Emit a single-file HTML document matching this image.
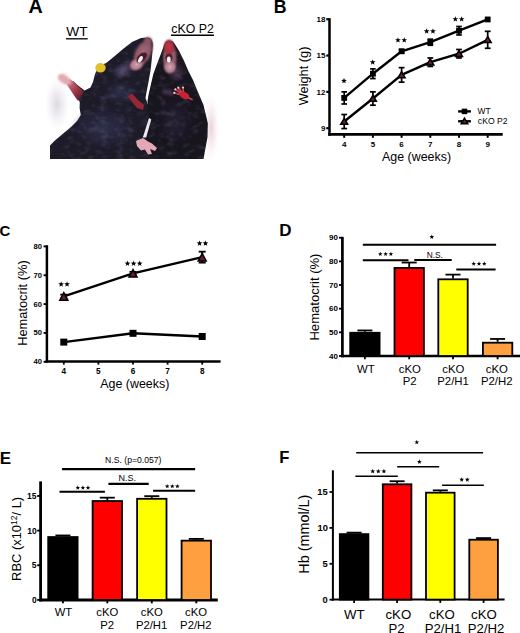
<!DOCTYPE html>
<html><head><meta charset="utf-8"><style>
html,body{margin:0;padding:0;background:#fff;}
svg{display:block;font-family:"Liberation Sans",sans-serif;}
</style></head><body>
<svg width="520" height="633" viewBox="0 0 520 633">
<rect width="520" height="633" fill="#fff"/>
<text x="28.61" y="12.6" font-size="19.7" font-weight="bold" >A</text>
<defs>
<filter id="bl" x="-10%" y="-10%" width="120%" height="120%"><feGaussianBlur stdDeviation="0.6"/></filter>
<filter id="bl2" x="-50%" y="-50%" width="200%" height="200%"><feGaussianBlur stdDeviation="1.3"/></filter>
<radialGradient id="hl1"><stop offset="0" stop-color="#5e4e78" stop-opacity="0.95"/><stop offset="1" stop-color="#5e4e78" stop-opacity="0"/></radialGradient>
<radialGradient id="hl2"><stop offset="0" stop-color="#30324e" stop-opacity="0.9"/><stop offset="1" stop-color="#30324e" stop-opacity="0"/></radialGradient>
<radialGradient id="hl3"><stop offset="0" stop-color="#262236" stop-opacity="0.9"/><stop offset="1" stop-color="#262236" stop-opacity="0"/></radialGradient>
<radialGradient id="hl4"><stop offset="0" stop-color="#4a3450" stop-opacity="0.9"/><stop offset="1" stop-color="#4a3450" stop-opacity="0"/></radialGradient>
<radialGradient id="hl5"><stop offset="0" stop-color="#dcd8e0" stop-opacity="1"/><stop offset="1" stop-color="#e8e4ec" stop-opacity="0"/></radialGradient>
<radialGradient id="hl6"><stop offset="0" stop-color="#ecd2d8" stop-opacity="1"/><stop offset="1" stop-color="#f4e4e8" stop-opacity="0"/></radialGradient>
<radialGradient id="mo1"><stop offset="0" stop-color="#d4a8b4"/><stop offset="0.6" stop-color="#b07a8a"/><stop offset="1" stop-color="#7a4a5a" stop-opacity="0"/></radialGradient>
<linearGradient id="arm" x1="1" y1="1" x2="0" y2="0"><stop offset="0" stop-color="#3a1a26"/><stop offset="0.45" stop-color="#a03444"/><stop offset="1" stop-color="#d8909c"/></linearGradient>
<radialGradient id="mo3"><stop offset="0" stop-color="#c03848"/><stop offset="0.6" stop-color="#a83040"/><stop offset="1" stop-color="#802838" stop-opacity="0"/></radialGradient>
<radialGradient id="mo4"><stop offset="0" stop-color="#a86c7c"/><stop offset="0.65" stop-color="#8a5666"/><stop offset="1" stop-color="#5a3040" stop-opacity="0"/></radialGradient>
<radialGradient id="mo2"><stop offset="0" stop-color="#b86070"/><stop offset="0.6" stop-color="#984858"/><stop offset="1" stop-color="#703040" stop-opacity="0"/></radialGradient>
<filter id="fur" x="0" y="0" width="100%" height="100%"><feTurbulence type="fractalNoise" baseFrequency="0.12 0.18" numOctaves="2" seed="5" result="n"/><feColorMatrix in="n" type="matrix" values="0 0 0 0 0.3  0 0 0 0 0.28  0 0 0 0 0.45  0 0 0 2.2 -1.0"/></filter>
<clipPath id="mclip"><path d="M148.5,37.5 C151.5,38.5 153,41 152.8,45 L152,57 L150.6,70 L148.5,82 L146.5,92 L145.5,98 L150,110 L155,159 L50,159 L50,145.4 L54.6,140.8 L63.8,133 L71,127 L77,121 L80.8,115 L79.6,108 L79.8,102 L77,97.5 L84.6,90.5 L90.5,87.5 L93,82 L95,74 L99,66 L106.2,63 L114.2,56.5 L123.6,48.5 L132,42 L141,38 Z"/><path d="M168.9,40.5 C171.5,40.5 173.2,41.5 174.5,43.5 L179,50.8 L184.3,61.6 L188.4,71 L193,80 L197.7,91.5 L203.5,105 L207.8,123.2 L207.5,137 L205.5,148 L203.5,159 L146,159 L146.5,140 L148.6,119.4 L147.5,101 L148.5,95 L151,84 L153.4,73.7 L157.4,62.9 L161.5,52.2 L164.5,44 C165.8,41.8 167.2,40.6 168.9,40.5 Z"/></clipPath>
</defs>
<g filter="url(#bl)">
<ellipse cx="57" cy="104" rx="12" ry="26" fill="url(#hl5)"/>
<ellipse cx="211" cy="128" rx="8" ry="34" fill="url(#hl6)"/>
<path d="M148.5,37.5 C151.5,38.5 153,41 152.8,45 L152,57 L150.6,70 L148.5,82 L146.5,92 L145.5,98 L150,110 L155,159 L50,159 L50,145.4 L54.6,140.8 L63.8,133 L71,127 L77,121 L80.8,115 L79.6,108 L79.8,102 L77,97.5 L72,91 L70,85 L73,81 L78,85.5 L84.6,90.5 L90.5,87.5 L93,82 L95,74 L99,66 L106.2,63 L114.2,56.5 L123.6,48.5 L132,42 L141,38 Z" fill="#1c1a28"/>
<path d="M168.9,40.5 C171.5,40.5 173.2,41.5 174.5,43.5 L179,50.8 L184.3,61.6 L188.4,71 L193,80 L197.7,91.5 L203.5,105 L207.8,123.2 L207.5,137 L205.5,148 L203.5,159 L146,159 L146.5,140 L148.6,119.4 L147.5,101 L148.5,95 L151,84 L153.4,73.7 L157.4,62.9 L161.5,52.2 L164.5,44 C165.8,41.8 167.2,40.6 168.9,40.5 Z" fill="#16131c"/>
<path d="M149,118 L151.3,119.5 L146.2,137.5 L142.8,137.5 Z" fill="#f0ecf2"/>
<ellipse cx="123" cy="70" rx="12" ry="8" fill="url(#hl1)" transform="rotate(-35 123 70)"/>
<ellipse cx="104" cy="128" rx="34" ry="22" fill="url(#hl2)"/>
<ellipse cx="120" cy="92" rx="18" ry="12" fill="url(#hl2)"/>
<ellipse cx="175" cy="122" rx="20" ry="28" fill="url(#hl3)"/>
<ellipse cx="176" cy="72" rx="10" ry="12" fill="url(#hl4)"/>
<ellipse cx="168" cy="92" rx="9" ry="5" fill="url(#hl4)"/>
<g clip-path="url(#mclip)"><rect x="50" y="36" width="162" height="124" filter="url(#fur)" opacity="0.22"/></g>
<ellipse cx="143" cy="53" rx="9.5" ry="17" fill="url(#mo4)" transform="rotate(28 143 53)"/>
<ellipse cx="136.5" cy="64.5" rx="9" ry="7" fill="url(#mo1)" transform="rotate(-30 136.5 64.5)"/>
<ellipse cx="148" cy="40.5" rx="4" ry="3.2" fill="#8a5464" filter="url(#bl2)"/>
<ellipse cx="141.8" cy="57.6" rx="6.5" ry="3.8" fill="#4a1e2c" transform="rotate(-45 141.8 57.6)" filter="url(#bl)"/>
<ellipse cx="140.4" cy="59.4" rx="1.9" ry="3.6" fill="#f4eef0" transform="rotate(30 140.4 59.4)"/>
<ellipse cx="169.8" cy="58" rx="8.5" ry="17" fill="url(#mo4)"/>
<ellipse cx="170" cy="67" rx="7.5" ry="8" fill="url(#mo1)"/>
<ellipse cx="169" cy="47" rx="6.5" ry="9" fill="url(#mo3)"/>
<ellipse cx="169" cy="57.5" rx="3.6" ry="4" fill="#52222e" filter="url(#bl)"/>
<ellipse cx="168.8" cy="59.4" rx="1.9" ry="3" fill="#f6f0f2"/>
<ellipse cx="100.5" cy="67.8" rx="5.2" ry="4.8" fill="#e2c02a"/>
<path d="M84,92 C80,88 76,84 70,79 L66,83 C69,88 73,94 78,101 Z" fill="url(#arm)"/>
<path d="M71,84 C68,86 62,84 59,80 C57,77 58,74 61,74 C63,73 66,75 68,77 C70,79 72,81 71,84 Z" fill="#e2aab2" filter="url(#bl2)"/>
<path d="M128,96 L132,93.5 L138,100 L144,105 L143,110 L137,108 L132,102 Z" fill="#962838"/>
<g stroke-linecap="round" stroke-width="1.7" stroke="#d04050"><line x1="182" y1="94" x2="175.5" y2="89.5"/><line x1="182.5" y1="93.5" x2="178.5" y2="88"/><line x1="183.5" y1="93" x2="183" y2="87.8"/><line x1="181.5" y1="95" x2="174.5" y2="93"/><line x1="187" y1="97" x2="192" y2="99.5"/></g>
<ellipse cx="184.5" cy="95.5" rx="5" ry="3.4" fill="#c82434" transform="rotate(25 184.5 95.5)"/>
<g fill="#ecc4cc"><circle cx="175.3" cy="89.3" r="1.1"/><circle cx="178.3" cy="87.7" r="1.1"/><circle cx="183" cy="87.5" r="1.1"/><circle cx="174.3" cy="92.9" r="1.1"/></g>
<path d="M136,141 L143,138 L148,141.5 L152,143.5 L157,148 L155,151 L150,149 L152,154 L148,154.5 L145,149.5 L141,150.5 L137,146 Z" fill="#e2a8b6"/>
</g>
<text x="66.36" y="36.1" font-size="13.68" >WT</text>
<line x1="66" y1="38.8" x2="87.7" y2="38.8" stroke="#000" stroke-width="1.3" stroke-linecap="butt"/>
<text x="171.31" y="33.3" font-size="12.32" >cKO P2</text>
<line x1="170.9" y1="35.2" x2="214" y2="35.2" stroke="#000" stroke-width="1.5" stroke-linecap="butt"/>
<text x="273.76" y="12.7" font-size="17.7" font-weight="bold" >B</text>
<line x1="329.5" y1="18.2" x2="329.5" y2="135.7" stroke="#000" stroke-width="2.5" stroke-linecap="butt"/>
<line x1="328.2" y1="134.4" x2="502.7" y2="134.4" stroke="#000" stroke-width="2.7" stroke-linecap="butt"/>
<line x1="326.3" y1="128.2" x2="329.5" y2="128.2" stroke="#000" stroke-width="2.2" stroke-linecap="butt"/>
<text x="320.94" y="130.96" font-size="8" font-weight="bold" >9</text>
<line x1="326.3" y1="91.87" x2="329.5" y2="91.87" stroke="#000" stroke-width="2.2" stroke-linecap="butt"/>
<text x="316.54" y="94.67" font-size="8" font-weight="bold" >12</text>
<line x1="326.3" y1="55.54" x2="329.5" y2="55.54" stroke="#000" stroke-width="2.2" stroke-linecap="butt"/>
<text x="316.46" y="58.26" font-size="8" font-weight="bold" >15</text>
<line x1="326.3" y1="19.21" x2="329.5" y2="19.21" stroke="#000" stroke-width="2.2" stroke-linecap="butt"/>
<text x="316.46" y="21.97" font-size="8" font-weight="bold" >18</text>
<line x1="344.2" y1="134.4" x2="344.2" y2="137.8" stroke="#000" stroke-width="2" stroke-linecap="butt"/>
<text x="341.96" y="146.6" font-size="8" font-weight="bold" >4</text>
<line x1="372.9" y1="134.4" x2="372.9" y2="137.8" stroke="#000" stroke-width="2" stroke-linecap="butt"/>
<text x="370.66" y="146.6" font-size="8" font-weight="bold" >5</text>
<line x1="401.6" y1="134.4" x2="401.6" y2="137.8" stroke="#000" stroke-width="2" stroke-linecap="butt"/>
<text x="399.36" y="146.6" font-size="8" font-weight="bold" >6</text>
<line x1="430.3" y1="134.4" x2="430.3" y2="137.8" stroke="#000" stroke-width="2" stroke-linecap="butt"/>
<text x="428.1" y="146.6" font-size="8" font-weight="bold" >7</text>
<line x1="459" y1="134.4" x2="459" y2="137.8" stroke="#000" stroke-width="2" stroke-linecap="butt"/>
<text x="456.76" y="146.6" font-size="8" font-weight="bold" >8</text>
<line x1="487.7" y1="134.4" x2="487.7" y2="137.8" stroke="#000" stroke-width="2" stroke-linecap="butt"/>
<text x="485.5" y="146.6" font-size="8" font-weight="bold" >9</text>
<text x="382.1" y="160.9" font-size="12.42" >Age (weeks)</text>
<text transform="translate(308.41,105.23) rotate(-90)" font-size="12.77">Weight (g)</text>
<polyline fill="none" stroke="#000" stroke-width="2.4" stroke-linejoin="round" points="344.2,97.92 372.9,73.7 401.6,51.3 430.3,42.22 459,30.71 487.7,19.45"/>
<polyline fill="none" stroke="#000" stroke-width="2.4" stroke-linejoin="round" points="344.2,121.54 372.9,98.53 401.6,74.92 430.3,62.2 459,53.72 487.7,39.8"/>
<line x1="344.2" y1="91.87" x2="344.2" y2="103.98" stroke="#000" stroke-width="1.7" stroke-linecap="butt"/>
<line x1="341.4" y1="91.87" x2="347" y2="91.87" stroke="#000" stroke-width="1.7" stroke-linecap="butt"/>
<line x1="341.4" y1="103.98" x2="347" y2="103.98" stroke="#000" stroke-width="1.7" stroke-linecap="butt"/>
<rect x="341.3" y="95.02" width="5.8" height="5.8" fill="#000"/>
<line x1="372.9" y1="68.86" x2="372.9" y2="78.55" stroke="#000" stroke-width="1.7" stroke-linecap="butt"/>
<line x1="370.1" y1="68.86" x2="375.7" y2="68.86" stroke="#000" stroke-width="1.7" stroke-linecap="butt"/>
<line x1="370.1" y1="78.55" x2="375.7" y2="78.55" stroke="#000" stroke-width="1.7" stroke-linecap="butt"/>
<rect x="370" y="70.8" width="5.8" height="5.8" fill="#000"/>
<line x1="401.6" y1="49.48" x2="401.6" y2="53.12" stroke="#000" stroke-width="1.7" stroke-linecap="butt"/>
<line x1="398.8" y1="49.48" x2="404.4" y2="49.48" stroke="#000" stroke-width="1.7" stroke-linecap="butt"/>
<line x1="398.8" y1="53.12" x2="404.4" y2="53.12" stroke="#000" stroke-width="1.7" stroke-linecap="butt"/>
<rect x="398.7" y="48.4" width="5.8" height="5.8" fill="#000"/>
<line x1="430.3" y1="39.19" x2="430.3" y2="45.25" stroke="#000" stroke-width="1.7" stroke-linecap="butt"/>
<line x1="427.5" y1="39.19" x2="433.1" y2="39.19" stroke="#000" stroke-width="1.7" stroke-linecap="butt"/>
<line x1="427.5" y1="45.25" x2="433.1" y2="45.25" stroke="#000" stroke-width="1.7" stroke-linecap="butt"/>
<rect x="427.4" y="39.32" width="5.8" height="5.8" fill="#000"/>
<line x1="459" y1="26.48" x2="459" y2="34.95" stroke="#000" stroke-width="1.7" stroke-linecap="butt"/>
<line x1="456.2" y1="26.48" x2="461.8" y2="26.48" stroke="#000" stroke-width="1.7" stroke-linecap="butt"/>
<line x1="456.2" y1="34.95" x2="461.8" y2="34.95" stroke="#000" stroke-width="1.7" stroke-linecap="butt"/>
<rect x="456.1" y="27.81" width="5.8" height="5.8" fill="#000"/>
<rect x="484.8" y="16.55" width="5.8" height="5.8" fill="#000"/>
<line x1="344.2" y1="114.52" x2="344.2" y2="128.56" stroke="#000" stroke-width="1.7" stroke-linecap="butt"/>
<line x1="341.3" y1="114.52" x2="347.1" y2="114.52" stroke="#000" stroke-width="1.7" stroke-linecap="butt"/>
<line x1="341.3" y1="128.56" x2="347.1" y2="128.56" stroke="#000" stroke-width="1.7" stroke-linecap="butt"/>
<polygon points="344.2,118.29 340.7,124.29 347.7,124.29" fill="#6a1c2c" stroke="#000" stroke-width="1.5" stroke-linejoin="miter"/>
<line x1="372.9" y1="91.87" x2="372.9" y2="105.19" stroke="#000" stroke-width="1.7" stroke-linecap="butt"/>
<line x1="370" y1="91.87" x2="375.8" y2="91.87" stroke="#000" stroke-width="1.7" stroke-linecap="butt"/>
<line x1="370" y1="105.19" x2="375.8" y2="105.19" stroke="#000" stroke-width="1.7" stroke-linecap="butt"/>
<polygon points="372.9,95.28 369.4,101.28 376.4,101.28" fill="#6a1c2c" stroke="#000" stroke-width="1.5" stroke-linejoin="miter"/>
<line x1="401.6" y1="67.65" x2="401.6" y2="82.18" stroke="#000" stroke-width="1.7" stroke-linecap="butt"/>
<line x1="398.7" y1="67.65" x2="404.5" y2="67.65" stroke="#000" stroke-width="1.7" stroke-linecap="butt"/>
<line x1="398.7" y1="82.18" x2="404.5" y2="82.18" stroke="#000" stroke-width="1.7" stroke-linecap="butt"/>
<polygon points="401.6,71.67 398.1,77.67 405.1,77.67" fill="#6a1c2c" stroke="#000" stroke-width="1.5" stroke-linejoin="miter"/>
<line x1="430.3" y1="57.96" x2="430.3" y2="66.44" stroke="#000" stroke-width="1.7" stroke-linecap="butt"/>
<line x1="427.4" y1="57.96" x2="433.2" y2="57.96" stroke="#000" stroke-width="1.7" stroke-linecap="butt"/>
<line x1="427.4" y1="66.44" x2="433.2" y2="66.44" stroke="#000" stroke-width="1.7" stroke-linecap="butt"/>
<polygon points="430.3,58.95 426.8,64.95 433.8,64.95" fill="#6a1c2c" stroke="#000" stroke-width="1.5" stroke-linejoin="miter"/>
<line x1="459" y1="49.48" x2="459" y2="57.96" stroke="#000" stroke-width="1.7" stroke-linecap="butt"/>
<line x1="456.1" y1="49.48" x2="461.9" y2="49.48" stroke="#000" stroke-width="1.7" stroke-linecap="butt"/>
<line x1="456.1" y1="57.96" x2="461.9" y2="57.96" stroke="#000" stroke-width="1.7" stroke-linecap="butt"/>
<polygon points="459,50.47 455.5,56.47 462.5,56.47" fill="#6a1c2c" stroke="#000" stroke-width="1.5" stroke-linejoin="miter"/>
<line x1="487.7" y1="31.32" x2="487.7" y2="48.27" stroke="#000" stroke-width="1.7" stroke-linecap="butt"/>
<line x1="484.8" y1="31.32" x2="490.6" y2="31.32" stroke="#000" stroke-width="1.7" stroke-linecap="butt"/>
<line x1="484.8" y1="48.27" x2="490.6" y2="48.27" stroke="#000" stroke-width="1.7" stroke-linecap="butt"/>
<polygon points="487.7,36.55 484.2,42.55 491.2,42.55" fill="#6a1c2c" stroke="#000" stroke-width="1.5" stroke-linejoin="miter"/>
<polygon points="344,77.89 344.74,79.87 346.85,79.96 345.2,81.28 345.76,83.31 344,82.15 342.24,83.31 342.8,81.28 341.15,79.96 343.26,79.87" fill="#000"/>
<polygon points="372.7,59.29 373.44,61.27 375.55,61.36 373.9,62.68 374.46,64.71 372.7,63.55 370.94,64.71 371.5,62.68 369.85,61.36 371.96,61.27" fill="#000"/>
<polygon points="397.95,37.19 398.69,39.17 400.8,39.26 399.15,40.58 399.71,42.61 397.95,41.45 396.19,42.61 396.75,40.58 395.1,39.26 397.21,39.17" fill="#000"/>
<polygon points="404.25,37.19 404.99,39.17 407.1,39.26 405.45,40.58 406.01,42.61 404.25,41.45 402.49,42.61 403.05,40.58 401.4,39.26 403.51,39.17" fill="#000"/>
<polygon points="426.65,28.29 427.39,30.27 429.5,30.36 427.85,31.68 428.41,33.71 426.65,32.55 424.89,33.71 425.45,31.68 423.8,30.36 425.91,30.27" fill="#000"/>
<polygon points="432.95,28.29 433.69,30.27 435.8,30.36 434.15,31.68 434.71,33.71 432.95,32.55 431.19,33.71 431.75,31.68 430.1,30.36 432.21,30.27" fill="#000"/>
<polygon points="455.35,16.19 456.09,18.17 458.2,18.26 456.55,19.58 457.11,21.61 455.35,20.45 453.59,21.61 454.15,19.58 452.5,18.26 454.61,18.17" fill="#000"/>
<polygon points="461.65,16.19 462.39,18.17 464.5,18.26 462.85,19.58 463.41,21.61 461.65,20.45 459.89,21.61 460.45,19.58 458.8,18.26 460.91,18.17" fill="#000"/>
<line x1="458.1" y1="111.4" x2="470.9" y2="111.4" stroke="#000" stroke-width="2.4" stroke-linecap="butt"/>
<rect x="461.75" y="108.65" width="5.5" height="5.5" fill="#000"/>
<line x1="458.1" y1="121.3" x2="470.9" y2="121.3" stroke="#000" stroke-width="2.4" stroke-linecap="butt"/>
<polygon points="464.5,118.2 461.25,123.7 467.75,123.7" fill="#6a1c2c" stroke="#000" stroke-width="1.5" stroke-linejoin="miter"/>
<text x="477.52" y="114.2" font-size="8.42" >WT</text>
<text x="477.85" y="124.4" font-size="8.63" >cKO P2</text>
<text x="-0.4" y="236.4" font-size="15" font-weight="bold" >C</text>
<line x1="46.9" y1="245.2" x2="46.9" y2="362.7" stroke="#000" stroke-width="2.5" stroke-linecap="butt"/>
<line x1="45.6" y1="361.5" x2="220.6" y2="361.5" stroke="#000" stroke-width="2.4" stroke-linecap="butt"/>
<line x1="43.6" y1="361.8" x2="46.9" y2="361.8" stroke="#000" stroke-width="1.9" stroke-linecap="butt"/>
<text x="33.47" y="364.22" font-size="7.6" font-weight="bold" >40</text>
<line x1="43.6" y1="332.95" x2="46.9" y2="332.95" stroke="#000" stroke-width="1.9" stroke-linecap="butt"/>
<text x="33.47" y="335.37" font-size="7.6" font-weight="bold" >50</text>
<line x1="43.6" y1="304.1" x2="46.9" y2="304.1" stroke="#000" stroke-width="1.9" stroke-linecap="butt"/>
<text x="33.47" y="306.52" font-size="7.6" font-weight="bold" >60</text>
<line x1="43.6" y1="275.25" x2="46.9" y2="275.25" stroke="#000" stroke-width="1.9" stroke-linecap="butt"/>
<text x="33.47" y="277.67" font-size="7.6" font-weight="bold" >70</text>
<line x1="43.6" y1="246.4" x2="46.9" y2="246.4" stroke="#000" stroke-width="1.9" stroke-linecap="butt"/>
<text x="33.47" y="248.82" font-size="7.6" font-weight="bold" >80</text>
<line x1="63.8" y1="361.5" x2="63.8" y2="364.6" stroke="#000" stroke-width="1.8" stroke-linecap="butt"/>
<text x="61.5" y="374" font-size="8.2" font-weight="bold" >4</text>
<line x1="98.4" y1="361.5" x2="98.4" y2="364.6" stroke="#000" stroke-width="1.8" stroke-linecap="butt"/>
<text x="96.1" y="374" font-size="8.2" font-weight="bold" >5</text>
<line x1="133" y1="361.5" x2="133" y2="364.6" stroke="#000" stroke-width="1.8" stroke-linecap="butt"/>
<text x="130.7" y="374" font-size="8.2" font-weight="bold" >6</text>
<line x1="167.6" y1="361.5" x2="167.6" y2="364.6" stroke="#000" stroke-width="1.8" stroke-linecap="butt"/>
<text x="165.35" y="374" font-size="8.2" font-weight="bold" >7</text>
<line x1="202.2" y1="361.5" x2="202.2" y2="364.6" stroke="#000" stroke-width="1.8" stroke-linecap="butt"/>
<text x="199.9" y="374" font-size="8.2" font-weight="bold" >8</text>
<text x="100.2" y="387.8" font-size="12.44" >Age (weeks)</text>
<text transform="translate(27.35,345.83) rotate(-90)" font-size="12.83">Hematocrit (%)</text>
<polyline fill="none" stroke="#000" stroke-width="2.4" points="63.8,342.11 133,333.32 202.2,336.49"/>
<polyline fill="none" stroke="#000" stroke-width="2.4" points="63.8,296.39 133,273.31 202.2,257.15"/>
<rect x="60.3" y="338.61" width="7" height="7" fill="#000"/>
<rect x="129.5" y="329.82" width="7" height="7" fill="#000"/>
<rect x="198.7" y="332.99" width="7" height="7" fill="#000"/>
<line x1="63.8" y1="294.66" x2="63.8" y2="298.12" stroke="#000" stroke-width="1.8" stroke-linecap="butt"/>
<line x1="60.3" y1="294.66" x2="67.3" y2="294.66" stroke="#000" stroke-width="1.8" stroke-linecap="butt"/>
<line x1="60.3" y1="298.12" x2="67.3" y2="298.12" stroke="#000" stroke-width="1.8" stroke-linecap="butt"/>
<polygon points="63.8,292.69 59.8,300.19 67.8,300.19" fill="#6a1c2c" stroke="#000" stroke-width="1.5" stroke-linejoin="miter"/>
<line x1="133" y1="271.87" x2="133" y2="274.75" stroke="#000" stroke-width="1.8" stroke-linecap="butt"/>
<line x1="129.5" y1="271.87" x2="136.5" y2="271.87" stroke="#000" stroke-width="1.8" stroke-linecap="butt"/>
<line x1="129.5" y1="274.75" x2="136.5" y2="274.75" stroke="#000" stroke-width="1.8" stroke-linecap="butt"/>
<polygon points="133,269.61 129,277.11 137,277.11" fill="#6a1c2c" stroke="#000" stroke-width="1.5" stroke-linejoin="miter"/>
<line x1="202.2" y1="251.67" x2="202.2" y2="262.63" stroke="#000" stroke-width="1.8" stroke-linecap="butt"/>
<line x1="198.7" y1="251.67" x2="205.7" y2="251.67" stroke="#000" stroke-width="1.8" stroke-linecap="butt"/>
<line x1="198.7" y1="262.63" x2="205.7" y2="262.63" stroke="#000" stroke-width="1.8" stroke-linecap="butt"/>
<polygon points="202.2,253.45 198.2,260.95 206.2,260.95" fill="#6a1c2c" stroke="#000" stroke-width="1.5" stroke-linejoin="miter"/>
<polygon points="61.15,281.29 61.89,283.27 64,283.36 62.35,284.68 62.91,286.71 61.15,285.55 59.39,286.71 59.95,284.68 58.3,283.36 60.41,283.27" fill="#000"/>
<polygon points="67.05,281.29 67.79,283.27 69.9,283.36 68.25,284.68 68.81,286.71 67.05,285.55 65.29,286.71 65.85,284.68 64.2,283.36 66.31,283.27" fill="#000"/>
<polygon points="127.5,260.59 128.24,262.57 130.35,262.66 128.7,263.98 129.26,266.01 127.5,264.85 125.74,266.01 126.3,263.98 124.65,262.66 126.76,262.57" fill="#000"/>
<polygon points="133.6,260.59 134.34,262.57 136.45,262.66 134.8,263.98 135.36,266.01 133.6,264.85 131.84,266.01 132.4,263.98 130.75,262.66 132.86,262.57" fill="#000"/>
<polygon points="139.7,260.59 140.44,262.57 142.55,262.66 140.9,263.98 141.46,266.01 139.7,264.85 137.94,266.01 138.5,263.98 136.85,262.66 138.96,262.57" fill="#000"/>
<polygon points="199.55,240.39 200.29,242.37 202.4,242.46 200.75,243.78 201.31,245.81 199.55,244.65 197.79,245.81 198.35,243.78 196.7,242.46 198.81,242.37" fill="#000"/>
<polygon points="205.45,240.39 206.19,242.37 208.3,242.46 206.65,243.78 207.21,245.81 205.45,244.65 203.69,245.81 204.25,243.78 202.6,242.46 204.71,242.37" fill="#000"/>
<text x="279.31" y="235.8" font-size="17" font-weight="bold" >D</text>
<line x1="342.4" y1="236.9" x2="342.4" y2="357.35" stroke="#000" stroke-width="2.7" stroke-linecap="butt"/>
<line x1="341.05" y1="356" x2="520" y2="356" stroke="#000" stroke-width="2.7" stroke-linecap="butt"/>
<line x1="339" y1="356" x2="342.4" y2="356" stroke="#000" stroke-width="1.8" stroke-linecap="butt"/>
<text x="328.94" y="358.76" font-size="8" font-weight="bold" >40</text>
<line x1="339" y1="332.34" x2="342.4" y2="332.34" stroke="#000" stroke-width="1.8" stroke-linecap="butt"/>
<text x="328.94" y="335.1" font-size="8" font-weight="bold" >50</text>
<line x1="339" y1="308.68" x2="342.4" y2="308.68" stroke="#000" stroke-width="1.8" stroke-linecap="butt"/>
<text x="328.94" y="311.44" font-size="8" font-weight="bold" >60</text>
<line x1="339" y1="285.02" x2="342.4" y2="285.02" stroke="#000" stroke-width="1.8" stroke-linecap="butt"/>
<text x="328.94" y="287.78" font-size="8" font-weight="bold" >70</text>
<line x1="339" y1="261.36" x2="342.4" y2="261.36" stroke="#000" stroke-width="1.8" stroke-linecap="butt"/>
<text x="328.94" y="264.12" font-size="8" font-weight="bold" >80</text>
<line x1="339" y1="237.7" x2="342.4" y2="237.7" stroke="#000" stroke-width="1.8" stroke-linecap="butt"/>
<text x="328.94" y="240.46" font-size="8" font-weight="bold" >90</text>
<line x1="364.9" y1="330.45" x2="364.9" y2="331.87" stroke="#000" stroke-width="1.8" stroke-linecap="butt"/>
<line x1="357.4" y1="330.45" x2="372.4" y2="330.45" stroke="#000" stroke-width="1.8" stroke-linecap="butt"/>
<rect x="350.2" y="332.77" width="29.4" height="23.23" fill="#000" stroke="#000" stroke-width="1.8"/>
<line x1="364.9" y1="356" x2="364.9" y2="359.3" stroke="#000" stroke-width="1.8" stroke-linecap="butt"/>
<line x1="409.2" y1="262.54" x2="409.2" y2="267.04" stroke="#000" stroke-width="1.8" stroke-linecap="butt"/>
<line x1="401.7" y1="262.54" x2="416.7" y2="262.54" stroke="#000" stroke-width="1.8" stroke-linecap="butt"/>
<rect x="394.5" y="267.94" width="29.4" height="88.06" fill="#ff0000" stroke="#000" stroke-width="1.8"/>
<line x1="409.2" y1="356" x2="409.2" y2="359.3" stroke="#000" stroke-width="1.8" stroke-linecap="butt"/>
<line x1="453" y1="274.61" x2="453" y2="278.4" stroke="#000" stroke-width="1.8" stroke-linecap="butt"/>
<line x1="445.5" y1="274.61" x2="460.5" y2="274.61" stroke="#000" stroke-width="1.8" stroke-linecap="butt"/>
<rect x="438.3" y="279.3" width="29.4" height="76.7" fill="#ffff00" stroke="#000" stroke-width="1.8"/>
<line x1="453" y1="356" x2="453" y2="359.3" stroke="#000" stroke-width="1.8" stroke-linecap="butt"/>
<line x1="497.6" y1="338.96" x2="497.6" y2="341.8" stroke="#000" stroke-width="1.8" stroke-linecap="butt"/>
<line x1="490.1" y1="338.96" x2="505.1" y2="338.96" stroke="#000" stroke-width="1.8" stroke-linecap="butt"/>
<rect x="482.9" y="342.7" width="29.4" height="13.3" fill="#ffa040" stroke="#000" stroke-width="1.8"/>
<line x1="497.6" y1="356" x2="497.6" y2="359.3" stroke="#000" stroke-width="1.8" stroke-linecap="butt"/>
<text x="357.02" y="372.6" font-size="11.4" >WT</text>
<text x="398.74" y="372.6" font-size="11.4" >cKO</text>
<text x="402.68" y="385.1" font-size="11.4" >P2</text>
<text x="442.24" y="372.6" font-size="11.4" >cKO</text>
<text x="437.28" y="385.1" font-size="11.4" >P2/H1</text>
<text x="485.84" y="372.6" font-size="11.4" >cKO</text>
<text x="480.88" y="385.1" font-size="11.4" >P2/H2</text>
<text transform="translate(319.21,340.55) rotate(-90)" font-size="13.06">Hematocrit (%)</text>
<line x1="362.8" y1="244.8" x2="496.1" y2="244.8" stroke="#000" stroke-width="2" stroke-linecap="butt"/>
<polygon points="431.8,234.44 432.42,236.09 434.18,236.17 432.8,237.26 433.27,238.96 431.8,237.99 430.33,238.96 430.8,237.26 429.42,236.17 431.18,236.09" fill="#000"/>
<line x1="362.8" y1="260.2" x2="408.5" y2="260.2" stroke="#000" stroke-width="2" stroke-linecap="butt"/>
<polygon points="380.3,251.63 380.89,253.21 382.58,253.29 381.26,254.34 381.71,255.97 380.3,255.04 378.89,255.97 379.34,254.34 378.02,253.29 379.71,253.21" fill="#000"/>
<polygon points="385.6,251.63 386.19,253.21 387.88,253.29 386.56,254.34 387.01,255.97 385.6,255.04 384.19,255.97 384.64,254.34 383.32,253.29 385.01,253.21" fill="#000"/>
<polygon points="390.9,251.63 391.49,253.21 393.18,253.29 391.86,254.34 392.31,255.97 390.9,255.04 389.49,255.97 389.94,254.34 388.62,253.29 390.31,253.21" fill="#000"/>
<line x1="414.3" y1="260" x2="451.7" y2="260" stroke="#000" stroke-width="2" stroke-linecap="butt"/>
<text x="426.63" y="257.8" font-size="8.36" >N.S.</text>
<line x1="456.3" y1="269.5" x2="495.6" y2="269.5" stroke="#000" stroke-width="2" stroke-linecap="butt"/>
<polygon points="473.7,261.33 474.29,262.91 475.98,262.99 474.66,264.04 475.11,265.67 473.7,264.74 472.29,265.67 472.74,264.04 471.42,262.99 473.11,262.91" fill="#000"/>
<polygon points="479,261.33 479.59,262.91 481.28,262.99 479.96,264.04 480.41,265.67 479,264.74 477.59,265.67 478.04,264.04 476.72,262.99 478.41,262.91" fill="#000"/>
<polygon points="484.3,261.33 484.89,262.91 486.58,262.99 485.26,264.04 485.71,265.67 484.3,264.74 482.89,265.67 483.34,264.04 482.02,262.99 483.71,262.91" fill="#000"/>
<text x="-0.39" y="463.8" font-size="17" font-weight="bold" >E</text>
<line x1="40.6" y1="481.4" x2="40.6" y2="601.4" stroke="#000" stroke-width="2.8" stroke-linecap="butt"/>
<line x1="39.2" y1="600" x2="217.8" y2="600" stroke="#000" stroke-width="2.8" stroke-linecap="butt"/>
<line x1="37.2" y1="599.9" x2="40.6" y2="599.9" stroke="#000" stroke-width="1.9" stroke-linecap="butt"/>
<text x="31.88" y="602.83" font-size="8.5" font-weight="bold" >0</text>
<line x1="37.2" y1="565.25" x2="40.6" y2="565.25" stroke="#000" stroke-width="1.9" stroke-linecap="butt"/>
<text x="31.79" y="568.14" font-size="8.5" font-weight="bold" >5</text>
<line x1="37.2" y1="530.6" x2="40.6" y2="530.6" stroke="#000" stroke-width="1.9" stroke-linecap="butt"/>
<text x="27.2" y="533.53" font-size="8.5" font-weight="bold" >10</text>
<line x1="37.2" y1="495.95" x2="40.6" y2="495.95" stroke="#000" stroke-width="1.9" stroke-linecap="butt"/>
<text x="27.12" y="498.84" font-size="8.5" font-weight="bold" >15</text>
<line x1="62.9" y1="535.45" x2="62.9" y2="536.14" stroke="#000" stroke-width="1.8" stroke-linecap="butt"/>
<line x1="55.4" y1="535.45" x2="70.4" y2="535.45" stroke="#000" stroke-width="1.8" stroke-linecap="butt"/>
<rect x="48.2" y="537.04" width="29.4" height="62.96" fill="#000" stroke="#000" stroke-width="1.8"/>
<line x1="62.9" y1="600" x2="62.9" y2="603.3" stroke="#000" stroke-width="1.9" stroke-linecap="butt"/>
<line x1="107.3" y1="497.68" x2="107.3" y2="500.11" stroke="#000" stroke-width="1.8" stroke-linecap="butt"/>
<line x1="99.8" y1="497.68" x2="114.8" y2="497.68" stroke="#000" stroke-width="1.8" stroke-linecap="butt"/>
<rect x="92.6" y="501.01" width="29.4" height="98.99" fill="#ff0000" stroke="#000" stroke-width="1.8"/>
<line x1="107.3" y1="600" x2="107.3" y2="603.3" stroke="#000" stroke-width="1.9" stroke-linecap="butt"/>
<line x1="151.8" y1="496.16" x2="151.8" y2="497.89" stroke="#000" stroke-width="1.8" stroke-linecap="butt"/>
<line x1="144.3" y1="496.16" x2="159.3" y2="496.16" stroke="#000" stroke-width="1.8" stroke-linecap="butt"/>
<rect x="137.1" y="498.79" width="29.4" height="101.21" fill="#ffff00" stroke="#000" stroke-width="1.8"/>
<line x1="151.8" y1="600" x2="151.8" y2="603.3" stroke="#000" stroke-width="1.9" stroke-linecap="butt"/>
<line x1="196.3" y1="538.92" x2="196.3" y2="539.75" stroke="#000" stroke-width="1.8" stroke-linecap="butt"/>
<line x1="188.8" y1="538.92" x2="203.8" y2="538.92" stroke="#000" stroke-width="1.8" stroke-linecap="butt"/>
<rect x="181.6" y="540.65" width="29.4" height="59.35" fill="#ffa040" stroke="#000" stroke-width="1.8"/>
<line x1="196.3" y1="600" x2="196.3" y2="603.3" stroke="#000" stroke-width="1.9" stroke-linecap="butt"/>
<text x="54.7" y="615.9" font-size="11.3" >WT</text>
<text x="96.24" y="615.9" font-size="11.3" >cKO</text>
<text x="100.14" y="628.5" font-size="11.3" >P2</text>
<text x="140.84" y="615.9" font-size="11.3" >cKO</text>
<text x="135.92" y="628.5" font-size="11.3" >P2/H1</text>
<text x="185.04" y="615.9" font-size="11.3" >cKO</text>
<text x="180.12" y="628.5" font-size="11.3" >P2/H2</text>
<text transform="translate(20.6,580.9) rotate(-90)" font-size="12.9">RBC (x10<tspan font-size="8.6" dy="-3.6">12</tspan><tspan dy="3.6">/ L)</tspan></text>
<line x1="62" y1="469.1" x2="195.1" y2="469.1" stroke="#000" stroke-width="2.1" stroke-linecap="butt"/>
<text x="105.11" y="463.3" font-size="8.65" >N.S. (p=0.057)</text>
<line x1="108.4" y1="483.9" x2="148.7" y2="483.9" stroke="#000" stroke-width="2.1" stroke-linecap="butt"/>
<text x="118.58" y="481" font-size="8.98" >N.S.</text>
<line x1="59.5" y1="491.7" x2="104.9" y2="491.7" stroke="#000" stroke-width="2.1" stroke-linecap="butt"/>
<polygon points="77.8,485.33 78.39,486.91 80.08,486.99 78.76,488.04 79.21,489.67 77.8,488.74 76.39,489.67 76.84,488.04 75.52,486.99 77.21,486.91" fill="#000"/>
<polygon points="82.9,485.33 83.49,486.91 85.18,486.99 83.86,488.04 84.31,489.67 82.9,488.74 81.49,489.67 81.94,488.04 80.62,486.99 82.31,486.91" fill="#000"/>
<polygon points="88,485.33 88.59,486.91 90.28,486.99 88.96,488.04 89.41,489.67 88,488.74 86.59,489.67 87.04,488.04 85.72,486.99 87.41,486.91" fill="#000"/>
<line x1="153.1" y1="490.8" x2="195.1" y2="490.8" stroke="#000" stroke-width="2.1" stroke-linecap="butt"/>
<polygon points="167.2,483.93 167.79,485.51 169.48,485.59 168.16,486.64 168.61,488.27 167.2,487.34 165.79,488.27 166.24,486.64 164.92,485.59 166.61,485.51" fill="#000"/>
<polygon points="172.3,483.93 172.89,485.51 174.58,485.59 173.26,486.64 173.71,488.27 172.3,487.34 170.89,488.27 171.34,486.64 170.02,485.59 171.71,485.51" fill="#000"/>
<polygon points="177.4,483.93 177.99,485.51 179.68,485.59 178.36,486.64 178.81,488.27 177.4,487.34 175.99,488.27 176.44,486.64 175.12,485.59 176.81,485.51" fill="#000"/>
<text x="279.34" y="462.9" font-size="16.6" font-weight="bold" >F</text>
<line x1="332.9" y1="470.3" x2="332.9" y2="600.6" stroke="#000" stroke-width="2" stroke-linecap="butt"/>
<line x1="331.9" y1="599.6" x2="504.6" y2="599.6" stroke="#000" stroke-width="2" stroke-linecap="butt"/>
<line x1="329.5" y1="599.7" x2="332.9" y2="599.7" stroke="#000" stroke-width="1.8" stroke-linecap="butt"/>
<text x="322.61" y="602.94" font-size="9.4" font-weight="bold" >0</text>
<line x1="329.5" y1="563.8" x2="332.9" y2="563.8" stroke="#000" stroke-width="1.8" stroke-linecap="butt"/>
<text x="322.52" y="567" font-size="9.4" font-weight="bold" >5</text>
<line x1="329.5" y1="527.9" x2="332.9" y2="527.9" stroke="#000" stroke-width="1.8" stroke-linecap="butt"/>
<text x="317.44" y="531.14" font-size="9.4" font-weight="bold" >10</text>
<line x1="329.5" y1="492" x2="332.9" y2="492" stroke="#000" stroke-width="1.8" stroke-linecap="butt"/>
<text x="317.35" y="495.2" font-size="9.4" font-weight="bold" >15</text>
<line x1="354.1" y1="532.64" x2="354.1" y2="533.21" stroke="#000" stroke-width="1.8" stroke-linecap="butt"/>
<line x1="346.6" y1="532.64" x2="361.6" y2="532.64" stroke="#000" stroke-width="1.8" stroke-linecap="butt"/>
<rect x="339.8" y="534.11" width="28.6" height="65.49" fill="#000" stroke="#000" stroke-width="1.8"/>
<line x1="354.1" y1="599.6" x2="354.1" y2="602.9" stroke="#000" stroke-width="1.8" stroke-linecap="butt"/>
<line x1="397.1" y1="481.23" x2="397.1" y2="483.38" stroke="#000" stroke-width="1.8" stroke-linecap="butt"/>
<line x1="389.6" y1="481.23" x2="404.6" y2="481.23" stroke="#000" stroke-width="1.8" stroke-linecap="butt"/>
<rect x="382.8" y="484.28" width="28.6" height="115.32" fill="#ff0000" stroke="#000" stroke-width="1.8"/>
<line x1="397.1" y1="599.6" x2="397.1" y2="602.9" stroke="#000" stroke-width="1.8" stroke-linecap="butt"/>
<line x1="440.3" y1="490.35" x2="440.3" y2="491.78" stroke="#000" stroke-width="1.8" stroke-linecap="butt"/>
<line x1="432.8" y1="490.35" x2="447.8" y2="490.35" stroke="#000" stroke-width="1.8" stroke-linecap="butt"/>
<rect x="426" y="492.68" width="28.6" height="106.92" fill="#ffff00" stroke="#000" stroke-width="1.8"/>
<line x1="440.3" y1="599.6" x2="440.3" y2="602.9" stroke="#000" stroke-width="1.8" stroke-linecap="butt"/>
<line x1="483.6" y1="538.1" x2="483.6" y2="538.81" stroke="#000" stroke-width="1.8" stroke-linecap="butt"/>
<line x1="476.1" y1="538.1" x2="491.1" y2="538.1" stroke="#000" stroke-width="1.8" stroke-linecap="butt"/>
<rect x="469.3" y="539.71" width="28.6" height="59.89" fill="#ffa040" stroke="#000" stroke-width="1.8"/>
<line x1="483.6" y1="599.6" x2="483.6" y2="602.9" stroke="#000" stroke-width="1.8" stroke-linecap="butt"/>
<text x="344.04" y="618.7" font-size="13.2" >WT</text>
<text x="385.5" y="618.7" font-size="13.2" >cKO</text>
<text x="388.45" y="633.2" font-size="13.2" >P2</text>
<text x="429.1" y="618.7" font-size="13.2" >cKO</text>
<text x="424.65" y="633.2" font-size="13.2" >P2/H1</text>
<text x="471.1" y="618.7" font-size="13.2" >cKO</text>
<text x="467.75" y="633.2" font-size="13.2" >P2/H2</text>
<text transform="translate(309.24,573.75) rotate(-90)" font-size="14.4">Hb (mmol/L)</text>
<line x1="356.2" y1="452.7" x2="483.1" y2="452.7" stroke="#000" stroke-width="1.4" stroke-linecap="butt"/>
<polygon points="416.8,439.74 417.42,441.39 419.18,441.47 417.8,442.56 418.27,444.26 416.8,443.29 415.33,444.26 415.8,442.56 414.42,441.47 416.18,441.39" fill="#000"/>
<line x1="397.2" y1="466.7" x2="439.2" y2="466.7" stroke="#000" stroke-width="1.4" stroke-linecap="butt"/>
<polygon points="419.4,459.34 420.02,460.99 421.78,461.07 420.4,462.16 420.87,463.86 419.4,462.89 417.93,463.86 418.4,462.16 417.02,461.07 418.78,460.99" fill="#000"/>
<line x1="355.4" y1="476.3" x2="397.8" y2="476.3" stroke="#000" stroke-width="1.4" stroke-linecap="butt"/>
<polygon points="372.7,468.84 373.32,470.49 375.08,470.57 373.7,471.66 374.17,473.36 372.7,472.39 371.23,473.36 371.7,471.66 370.32,470.57 372.08,470.49" fill="#000"/>
<polygon points="378.3,468.84 378.92,470.49 380.68,470.57 379.3,471.66 379.77,473.36 378.3,472.39 376.83,473.36 377.3,471.66 375.92,470.57 377.68,470.49" fill="#000"/>
<polygon points="383.9,468.84 384.52,470.49 386.28,470.57 384.9,471.66 385.37,473.36 383.9,472.39 382.43,473.36 382.9,471.66 381.52,470.57 383.28,470.49" fill="#000"/>
<line x1="442.1" y1="485.2" x2="483.8" y2="485.2" stroke="#000" stroke-width="1.4" stroke-linecap="butt"/>
<polygon points="461.7,477.14 462.32,478.79 464.08,478.87 462.7,479.96 463.17,481.66 461.7,480.69 460.23,481.66 460.7,479.96 459.32,478.87 461.08,478.79" fill="#000"/>
<polygon points="467.3,477.14 467.92,478.79 469.68,478.87 468.3,479.96 468.77,481.66 467.3,480.69 465.83,481.66 466.3,479.96 464.92,478.87 466.68,478.79" fill="#000"/>
</svg></body></html>
